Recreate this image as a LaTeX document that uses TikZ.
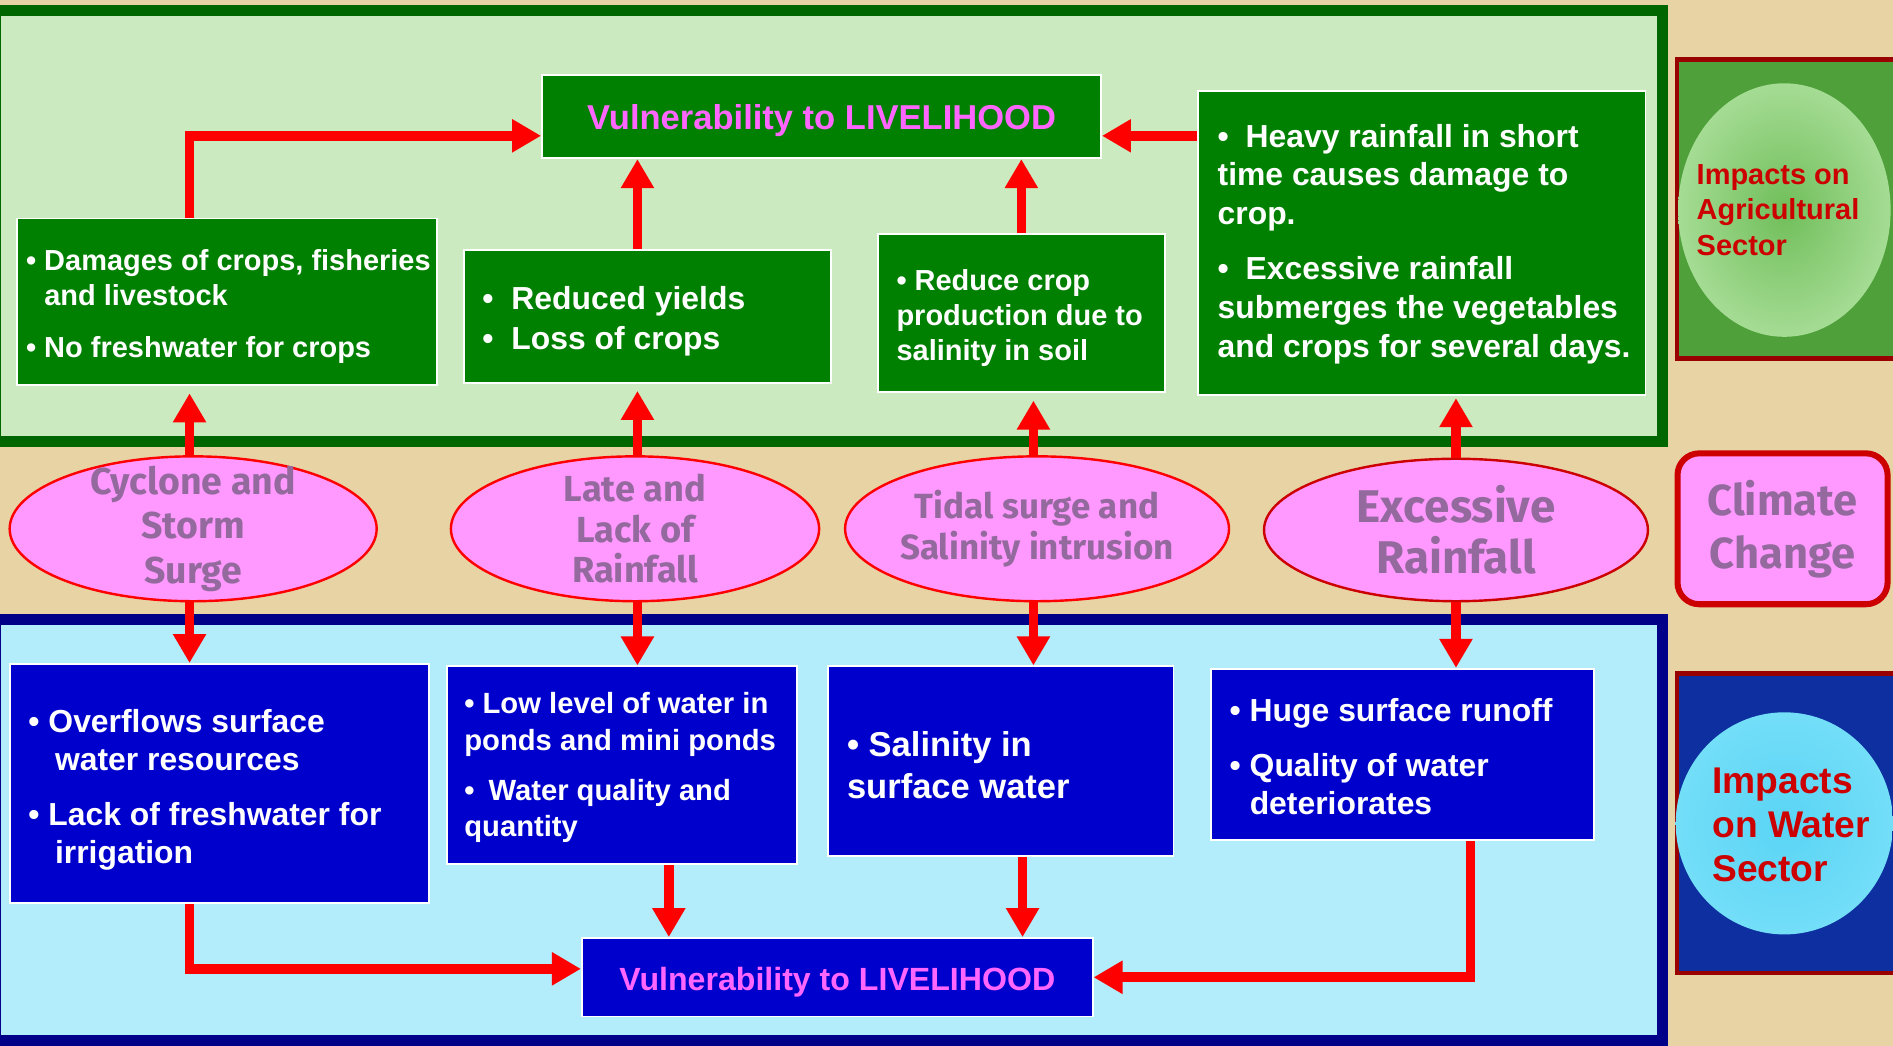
\documentclass[tikz,border=0pt]{standalone}
\usepackage{fontspec}
\setmainfont{Liberation Sans}
\newfontfamily\comic{Fira Sans}
\usetikzlibrary{arrows.meta,shapes.geometric,calc}
\definecolor{parch}{HTML}{E8D3A5}
\definecolor{ltgreen}{HTML}{CCEAC0}
\definecolor{dkgreen}{HTML}{006600}
\definecolor{boxgreen}{HTML}{008000}
\definecolor{ltcyan}{HTML}{B3ECFA}
\definecolor{navyb}{HTML}{000088}
\definecolor{boxblue}{HTML}{0000CC}
\definecolor{magtext}{HTML}{FF66FF}
\definecolor{pinkf}{HTML}{FF99FF}
\definecolor{comicc}{HTML}{946A9E}
\definecolor{labred}{HTML}{CC0000}
\definecolor{agborder}{HTML}{990000}
\definecolor{aggreen}{HTML}{4FA03A}
\definecolor{wblue}{HTML}{0D2FA0}
\definecolor{wcyan}{HTML}{66D9F5}
\begin{document}
\begin{tikzpicture}[x=0.5pt,y=-0.5pt,
  gbox/.style={draw=white, line width=0.8pt, fill=boxgreen, inner sep=0pt},
  bbox/.style={draw=white, line width=0.8pt, fill=boxblue, inner sep=0pt},
  wtext/.style={text=white, align=left, inner sep=0pt, anchor=west},
  ell/.style={ellipse, draw=red, line width=1pt, fill=pinkf, inner sep=0pt},
  etext/.style={align=center, text=comicc, inner sep=0pt},
  arr/.style={draw=red, line width=4pt, -{Triangle[length=12pt,width=13pt]}},
  vtext/.style={text=magtext, font=\bfseries\fontsize{14.3}{17}\selectfont}
]
\useasboundingbox (0,0) rectangle (1568,866);
\fill[parch] (0,0) rectangle (1568,866);
% panels
\draw[draw=dkgreen, line width=4.5pt, fill=ltgreen] (-4,8.5) rectangle (1377,365.5);
\draw[draw=navyb, line width=4.5pt, fill=ltcyan] (-4,513) rectangle (1377,862);
% right labels
\draw[draw=agborder, line width=2pt, fill=aggreen] (1389,49) rectangle (1590,297);
\shade[inner color={rgb,255:red,112;green,190;blue,90}, outer color={rgb,255:red,165;green,220;blue,148}] (1478,174) ellipse [x radius=88, y radius=105];
\node[anchor=west, text=labred, align=left, inner sep=0pt, font=\bfseries\fontsize{12}{14.75}\selectfont] (agt) at (1405,174) {Impacts on\\Agricultural\\Sector};
\node[draw=labred, line width=2.5pt, fill=pinkf, rounded corners=9pt, minimum width=87pt, minimum height=62.5pt, align=center, text=comicc, font=\comic\bfseries\fontsize{18}{22}\selectfont] (cc) at (1476.5,438) {Climate\\Change};
\draw[draw=agborder, line width=2pt, fill=wblue] (1389,558) rectangle (1590,806);
\shade[inner color={rgb,255:red,90;green,212;blue,245}, outer color={rgb,255:red,115;green,222;blue,248}] (1478,682) ellipse [x radius=90, y radius=92];
\node[anchor=west, text=labred, align=left, inner sep=0pt, font=\bfseries\fontsize{15.4}{18.2}\selectfont] (wst) at (1418,683) {Impacts\\on Water\\Sector};
% top boxes
\node[gbox, minimum width=231.5pt, minimum height=34.5pt] (tv) at (680.5,96.5) {};
\node[vtext] (tvt) at ([yshift=-1.5pt]tv.center) {Vulnerability to LIVELIHOOD};
\node[gbox, minimum width=174pt, minimum height=69pt] (a1) at (188,250) {};
\node[wtext, font=\bfseries\fontsize{12}{14.5}\selectfont] (a1t) at ([xshift=4pt,yshift=-2pt]a1.west) {• Damages of crops, fisheries\\\hphantom{• }and livestock\\[7pt]• No freshwater for crops};
\node[gbox, minimum width=152pt, minimum height=55pt] (a2) at (536,262) {};
\node[wtext, font=\bfseries\fontsize{13.2}{16.5}\selectfont] (a2t) at ([xshift=8pt,yshift=-2pt]a2.west) {•\hspace{7.4pt}Reduced yields\\•\hspace{7.4pt}Loss of crops};
\node[gbox, minimum width=119pt, minimum height=65.5pt] (a3) at (846,259.5) {};
\node[wtext, font=\bfseries\fontsize{12}{14.5}\selectfont] (a3t) at ([xshift=8pt,yshift=-2pt]a3.west) {• Reduce crop\\production due to\\salinity in soil};
\node[gbox, minimum width=185.5pt, minimum height=126pt] (a4) at (1177.5,201) {};
\node[wtext, font=\bfseries\fontsize{13.2}{16}\selectfont] (a4t) at ([xshift=8.5pt,yshift=-0.5pt]a4.west) {•\hspace{7pt}Heavy rainfall in short\\time causes damage to\\crop.\\[7pt]•\hspace{7pt}Excessive rainfall\\submerges the vegetables\\and crops for several days.};
% bottom boxes
\node[bbox, minimum width=173.5pt, minimum height=99pt] (b1) at (181.5,649) {};
\node[wtext, font=\bfseries\fontsize{13.2}{15.75}\selectfont] (b1t) at ([xshift=8pt,yshift=-2.5pt]b1.west) {• Overflows surface\\\hspace{11pt}water resources\\[7pt]• Lack of freshwater for\\\hspace{11pt}irrigation};
\node[bbox, minimum width=145pt, minimum height=82pt] (b2) at (515,634) {};
\node[wtext, font=\bfseries\fontsize{12.1}{15}\selectfont] (b2t) at ([xshift=7.5pt,yshift=-1pt]b2.west) {• Low level of water in\\ponds and mini ponds\\[6pt]•\hspace{5.8pt}Water quality and\\quantity};
\node[bbox, minimum width=143pt, minimum height=78.5pt] (b3) at (829,630.5) {};
\node[wtext, font=\bfseries\fontsize{14.3}{17.5}\selectfont] (b3t) at ([xshift=8pt,yshift=-1.5pt]b3.west) {• Salinity in\\surface water};
\node[bbox, minimum width=158.5pt, minimum height=71pt] (b4) at (1161.5,625) {};
\node[wtext, font=\bfseries\fontsize{13.2}{16}\selectfont] (b4t) at ([xshift=8pt,yshift=-1pt]b4.west) {• Huge surface runoff\\[6.5pt]• Quality of water\\\hphantom{• }deteriorates};
\node[bbox, minimum width=211.5pt, minimum height=32.5pt] (bv) at (693.5,809.5) {};
\node[vtext, font=\bfseries\fontsize{13.3}{16}\selectfont] (bvt) at ([yshift=-2pt]bv.center) {Vulnerability to LIVELIHOOD};
% ellipses
\node[ell, minimum width=152pt, minimum height=60pt] (e1) at (160,438) {};
\node[etext, font=\comic\bfseries\fontsize{15.5}{18.5}\selectfont] (e1t) at (e1.center) {Cyclone and\\Storm\\Surge};
\node[ell, minimum width=152.5pt, minimum height=60pt] (e2) at (526,438) {};
\node[etext, font=\comic\bfseries\fontsize{15}{16.8}\selectfont] (e2t) at (e2.center) {Late and\\Lack of\\Rainfall};
\node[ell, minimum width=159pt, minimum height=60pt] (e3) at (859,438) {};
\node[etext, font=\comic\bfseries\fontsize{14.5}{17}\selectfont] (e3t) at (e3.center) {Tidal surge and\\Salinity intrusion};
\node[ell, draw=labred, minimum width=159pt, minimum height=59pt] (e4) at (1206,439) {};
\node[etext, font=\comic\bfseries\fontsize{19}{21}\selectfont] (e4t) at (e4.center) {Excessive\\Rainfall};
% arrows top
\coordinate (tvw) at ([yshift=-8pt]tv.west);
\coordinate (tve) at ([yshift=-8pt]tv.east);
\coordinate (k1) at (157,0);
\coordinate (k6) at (528,0);
\coordinate (k7) at (856,0);
\draw[arr] (a1.north -| k1) |- (tvw);
\draw[arr] (a4.west |- tve) -- (tve);
\draw[arr] (a2.north -| k6) -- (tv.south -| k6);
\draw[arr] (a3.north) -- (tv.south -| a3.north);
\draw[arr, shorten >=3pt] (e1.north -| k1) -- (a1.south -| k1);
\draw[arr, shorten >=3pt] (e2.north -| k6) -- (a2.south -| k6);
\draw[arr, shorten >=3pt] (e3.north -| k7) -- (a3.south -| k7);
\draw[arr, shorten >=1pt] (e4.north) -- (e4.north |- a4.south);
% arrows bottom
\draw[arr] (e1.south -| k1) -- (b1.north -| k1);
\draw[arr] (e2.south -| k6) -- (b2.north -| k6);
\draw[arr] (e3.south -| k7) -- (b3.north -| k7);
\draw[arr] (e4.south) -- (e4.south |- b4.north);
\coordinate (bvw) at ([yshift=3.5pt]bv.west);
\coordinate (k2) at (554,0);
\coordinate (k3) at (847,0);
\coordinate (k4) at (1218,0);
\draw[arr] (b1.south -| k1) |- (bvw);
\draw[arr] (b2.south -| k2) -- (bv.north -| k2);
\draw[arr] (b3.south -| k3) -- (bv.north -| k3);
\draw[arr] (b4.south -| k4) |- (bv.east);
\end{tikzpicture}
\end{document}
